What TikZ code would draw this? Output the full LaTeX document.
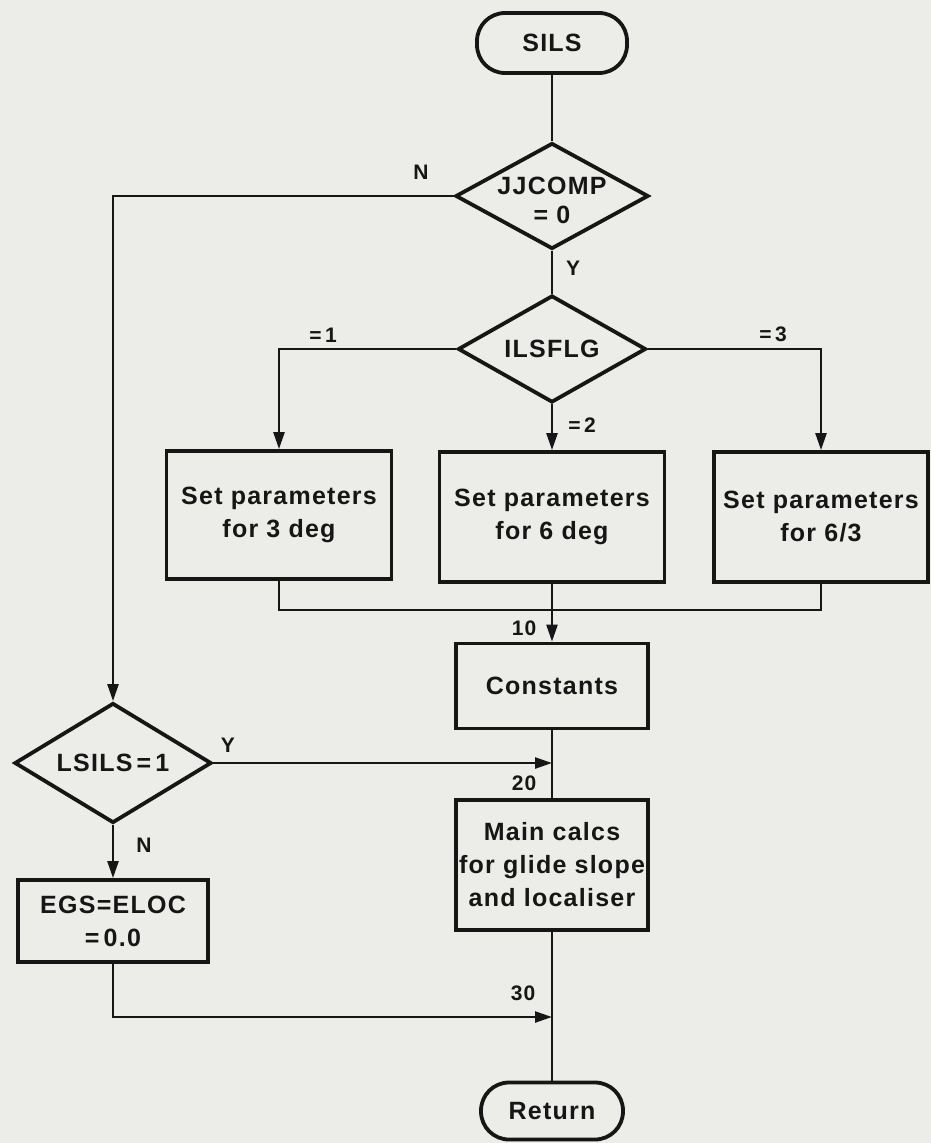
\documentclass[tikz,border=0pt]{standalone}
\usepackage{fontspec}
\setmainfont{Liberation Sans}[LetterSpace=5]
\usetikzlibrary{shapes.geometric,arrows.meta}

\definecolor{paper}{RGB}{236,236,233}
\definecolor{ink}{RGB}{22,22,22}

\tikzset{
  x=1pt, y=-1pt,
  flow/.style={draw=ink, line width=2.4pt},
  arrowed/.style={flow, -{Triangle[length=17pt,width=11pt]}},
  boxtext/.style={font=\bfseries\fontsize{25}{33}\selectfont, text=ink, align=center},
  tighttext/.style={font=\bfseries\fontsize{25}{29}\selectfont, text=ink, align=center},
  procbox/.style={draw=ink, line width=3.8pt, inner sep=0pt, boxtext},
  termbox/.style={procbox, rounded corners=28pt},
  decision/.style={draw=ink, line width=3.8pt, diamond, inner sep=0pt},
  tag/.style={font=\bfseries\fontsize{21}{25}\selectfont, text=ink, inner sep=0pt},
}

\begin{document}
\begin{tikzpicture}
  % page and paper tone
  \fill[paper] (0,0) rectangle (931,1143);
  \useasboundingbox (0,0) rectangle (931,1143);

  % terminals, decisions and process boxes
  \node[termbox, minimum width=150pt, minimum height=60pt] (sils) at (552,43) {SILS};

  \node[decision, minimum width=193pt, minimum height=106pt] (jj) at (552,196) {};
  \node[tighttext] (jjtext) at (552,200) {JJCOMP\\= 0};

  \node[decision, minimum width=188pt, minimum height=107pt] (ils) at (552,349) {};
  \node[boxtext] (ilstext) at (ils.center) {ILSFLG};

  \node[procbox, minimum width=225pt, minimum height=128pt] (b1) at (279,515) {Set parameters\\for 3 deg};
  \node[procbox, minimum width=225pt, minimum height=130pt] (b2) at (552,517) {Set parameters\\for 6 deg};
  \node[procbox, minimum width=214pt, minimum height=130pt] (b3) at (821,517) {Set parameters\\for 6/3};

  \node[procbox, minimum width=192pt, minimum height=85pt] (const) at (552,686) {Constants};

  \node[decision, minimum width=197pt, minimum height=120pt] (lsils) at (113,763) {};
  \node[boxtext] (lsilstext) at (lsils.center) {LSILS\,=\,1};

  \node[procbox, minimum width=192pt, minimum height=130pt] (main) at (552,865) {Main calcs\\for glide slope\\and localiser};

  \node[procbox, minimum width=190pt, minimum height=82pt] (egs) at (113,921) {EGS=ELOC\\=\,0.0};

  \node[termbox, minimum width=142pt, minimum height=57pt] (ret) at (552,1111) {Return};

  % junction points on the main spine
  \coordinate (m10) at (552,610);
  \coordinate (j20) at (main.north |- lsils.east);
  \coordinate (j30) at (552,1017);

  % connectors
  \draw[flow] (sils.south) -- (jj.north);
  \draw[flow] (jj.south) -- (ils.north);
  \draw[arrowed] (jj.west) -| (lsils.north);

  \draw[arrowed] (ils.west) -| (b1.north);
  \draw[arrowed] (ils.south) -- (b2.north);
  \draw[arrowed] (ils.east) -| (b3.north);

  \draw[flow] (b1.south) |- (m10);
  \draw[flow] (b3.south) |- (m10);
  \draw[arrowed] (b2.south) -- (const.north);

  \draw[flow] (const.south) -- (main.north);
  \draw[arrowed] (lsils.east) -- (j20);

  \draw[arrowed] (lsils.south) -- (egs.north);
  \draw[arrowed] (egs.south) |- (j30);
  \draw[flow] (main.south) -- (ret.north);

  % branch and entry labels
  \node[tag] (lN) at (421,172) {N};
  \node[tag] (lY) at (573,268) {Y};
  \node[tag] (l1) at (323,335) {=\,1};
  \node[tag] (l2) at (582,425) {=\,2};
  \node[tag] (l3) at (773,334) {=\,3};
  \node[tag] (l10) at (524,628) {10};
  \node[tag] (lY2) at (228,745) {Y};
  \node[tag] (l20) at (524,783) {20};
  \node[tag] (lN2) at (144,845) {N};
  \node[tag] (l30) at (523,993) {30};
\end{tikzpicture}
\end{document}
